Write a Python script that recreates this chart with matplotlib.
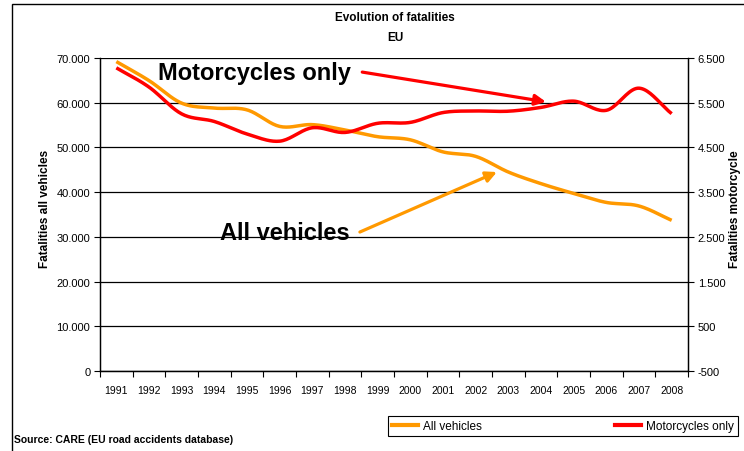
import numpy as np
import matplotlib
matplotlib.use('Agg')
import matplotlib.pyplot as plt

plt.rcParams['font.family'] = ['Liberation Sans', 'DejaVu Sans']
NARROW = ['Liberation Sans Narrow', 'Liberation Sans', 'DejaVu Sans']

years = ['1991', '1992', '1993', '1994', '1995', '1996', '1997', '1998', '1999',
         '2000', '2001', '2002', '2003', '2004', '2005', '2006', '2007', '2008']
all_vehicles = [69200, 64950, 59900, 58800, 58400, 54700, 55100, 53900, 52400,
                51700, 49000, 48000, 44500, 41900, 39700, 37700, 36900, 33700]
motorcycles = [6280, 5850, 5250, 5080, 4800, 4640, 4940, 4835, 5040,
               5060, 5280, 5315, 5310, 5395, 5535, 5330, 5825, 5255]

ORANGE = '#FF9900'
RED = '#FF0000'


def smooth(y, n=20):
    # Excel-style smoothed line (uniform Catmull-Rom through the points)
    y = np.asarray(y, float)
    x = np.arange(len(y), dtype=float)
    px = np.concatenate([[2 * x[0] - x[1]], x, [2 * x[-1] - x[-2]]])
    py = np.concatenate([[2 * y[0] - y[1]], y, [2 * y[-1] - y[-2]]])
    xs, ys = [], []
    t = np.linspace(0, 1, n, endpoint=False)
    for i in range(1, len(px) - 2):
        for p, out in ((px, xs), (py, ys)):
            p0, p1, p2, p3 = p[i - 1], p[i], p[i + 1], p[i + 2]
            out.extend(0.5 * ((2 * p1) + (-p0 + p2) * t
                              + (2 * p0 - 5 * p1 + 4 * p2 - p3) * t ** 2
                              + (-p0 + 3 * p1 - 3 * p2 + p3) * t ** 3))
    xs.append(x[-1])
    ys.append(y[-1])
    return np.array(xs), np.array(ys)


fig = plt.figure(figsize=(7.44, 4.52), dpi=100)
ax = fig.add_axes([100 / 744, 1 - 372 / 452, 588 / 744, 313 / 452])
ax2 = ax.twinx()

x1, y1 = smooth(all_vehicles)
ax.plot(x1, y1, color=ORANGE, lw=2.5, solid_capstyle='butt', zorder=3)
x2, y2 = smooth(motorcycles)
ax2.plot(x2, y2, color=RED, lw=2.5, solid_capstyle='butt', zorder=3)

ax.set_xlim(-0.5, len(years) - 0.5)
ax.set_ylim(0, 70000)
ax2.set_ylim(-500, 6500)
ax.set_yticks(np.arange(0, 70001, 10000))
ax.set_yticklabels([f'{v:,}'.replace(',', '.') for v in range(0, 70001, 10000)])
ax2.set_yticks(np.arange(-500, 6501, 1000))
ax2.set_yticklabels([f'{v:,}'.replace(',', '.') for v in range(-500, 6501, 1000)])
ax.set_xticks(np.arange(len(years)))
ax.set_xticklabels(years, fontfamily=NARROW)
ax.set_xticks(np.arange(-0.5, len(years)), minor=True)
ax.tick_params(axis='x', which='major', length=0, labelsize=7.5, pad=10)
ax.tick_params(axis='x', which='minor', length=4, width=0.8, direction='out')
ax.tick_params(axis='y', labelsize=8, length=4, width=0.8, pad=3)
ax2.tick_params(axis='y', labelsize=8, length=4, width=0.8, pad=3)

ax.grid(axis='y', color='black', lw=0.9)
ax.set_axisbelow(True)
for a in (ax, ax2):
    a.spines['top'].set_visible(False)
    for s in ('left', 'right', 'bottom'):
        a.spines[s].set_linewidth(0.9)

ax.set_ylabel('Fatalities all vehicles', fontsize=8.5, fontweight='bold')
ax2.set_ylabel('Fatalities motorcycle', fontsize=8.5, fontweight='bold')
ax.yaxis.set_label_coords(-0.083, 0.52)
ax2.yaxis.set_label_coords(1.07, 0.52)

fig.text(395 / 744, 1 - 18 / 452, 'Evolution of fatalities', ha='center', va='center',
         fontsize=8.5, fontweight='bold', family=NARROW)
fig.text(395 / 744, 1 - 38 / 452, 'EU', ha='center', va='center',
         fontsize=8.5, fontweight='bold', family=NARROW)

# call-outs
ax.text(0.098, 0.955, 'Motorcycles only', transform=ax.transAxes, fontsize=17,
        fontweight='bold', va='center', ha='left')
ax2.annotate('', xy=(13.15, 5520), xycoords='data',
             xytext=(0.446, 0.955), textcoords='axes fraction',
             arrowprops=dict(arrowstyle='-|>', color=RED, lw=2.3, mutation_scale=16,
                             shrinkA=0, shrinkB=0), zorder=4)
ax.text(0.204, 0.444, 'All vehicles', transform=ax.transAxes, fontsize=17,
        fontweight='bold', va='center', ha='left')
ax.annotate('', xy=(11.65, 44500), xycoords='data',
            xytext=(0.442, 0.444), textcoords='axes fraction',
            arrowprops=dict(arrowstyle='-|>', color=ORANGE, lw=2.3, mutation_scale=16,
                            shrinkA=0, shrinkB=0), zorder=4)

# legend
h1, = ax.plot([], [], color=ORANGE, lw=3)
h2, = ax.plot([], [], color=RED, lw=3)
leg = fig.legend([h1, h2], ['All vehicles', 'Motorcycles only'], ncol=2,
                 loc='lower left', bbox_to_anchor=(388 / 744, 1 - 437 / 452, 350 / 744, 24 / 452),
                 mode='expand', fancybox=False, framealpha=1, edgecolor='black',
                 prop={'family': NARROW, 'size': 8.5}, handlelength=2.2,
                 handletextpad=0.4, borderaxespad=0, borderpad=0.35)
leg.get_frame().set_linewidth(0.8)

fig.text(14 / 744, 1 - 440 / 452, 'Source: CARE (EU road accidents database)',
         fontsize=7.5, fontweight='bold', family=NARROW, va='center', ha='left')

# outer frame of the slide chart (right and bottom edges fall outside the picture)
fig.patches.append(plt.Rectangle((12 / 744, -0.05), 1.0, 1.05 - 5 / 452,
                                 transform=fig.transFigure, fill=False,
                                 edgecolor='black', lw=1))

fig.savefig('out.png', dpi=100)
